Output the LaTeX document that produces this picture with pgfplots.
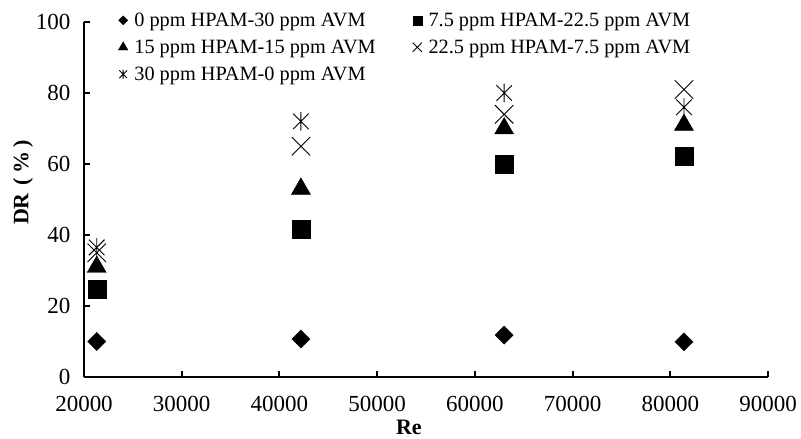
\documentclass[border=0pt]{standalone}
\usepackage{fontspec}
\setmainfont{Liberation Serif}
\usepackage{pgfplots}
\pgfplotsset{compat=1.18}
\pgfdeclareplotmark{xstar}{%
 \pgfpathmoveto{\pgfqpoint{-.7071\pgfplotmarksize}{-.7071\pgfplotmarksize}}%
 \pgfpathlineto{\pgfqpoint{.7071\pgfplotmarksize}{.7071\pgfplotmarksize}}%
 \pgfpathmoveto{\pgfqpoint{-.7071\pgfplotmarksize}{.7071\pgfplotmarksize}}%
 \pgfpathlineto{\pgfqpoint{.7071\pgfplotmarksize}{-.7071\pgfplotmarksize}}%
 \pgfpathmoveto{\pgfqpoint{0pt}{-.85\pgfplotmarksize}}%
 \pgfpathlineto{\pgfqpoint{0pt}{.85\pgfplotmarksize}}%
 \pgfusepathqstroke}
\begin{document}
\begin{tikzpicture}
\begin{axis}[
  scale only axis,
  width=684bp, height=355bp,
  xmin=20000, xmax=90000, ymin=0, ymax=100,
  xtick={20000,30000,...,90000},
  ytick={0,20,...,100},
  axis x line*=bottom, axis y line*=left,
  axis line style={line width=2.5bp, -},
  major tick style={line width=2bp, black},
  tick align=inside,
  major tick length=6bp,
  scaled ticks=false,
  /pgf/number format/1000 sep={},
  /pgf/number format/assume math mode=true,
  ticklabel style={font=\fontsize{23bp}{26bp}\selectfont},
  xticklabel style={yshift=-16bp},
  yticklabel style={xshift=-10bp},
  xlabel={\textbf{Re}},
  ylabel={\textbf{DR\hspace{0.35em}(\hspace{0.2em}\%\hspace{0.2em})}},
  label style={font=\fontsize{22bp}{26bp}\selectfont},
  xlabel style={at={(rel axis cs:0.475,-0.143)}, anchor=center},
  ylabel style={at={(rel axis cs:-0.089,0.548)}, anchor=center},
  legend columns=2,
  legend style={draw=none, fill=none, at={(0.05,1.032)}, anchor=north west,
    font=\fontsize{20.3bp}{24bp}\selectfont, row sep=8bp,
    /tikz/every even column/.append style={column sep=35bp},
    inner sep=0pt},
  legend cell align=left,
  legend image code/.code={\draw[#1,/tikz/every mark/.append style={scale=0.5}] plot coordinates {(0bp,0)}; \path (9bp,0);},
  clip=false,
]
\addplot[only marks, mark=square*, mark size=6.4bp, mark options={rotate=45, fill=black, draw=black}]
  coordinates {(21300,10) (42200,10.7) (63000,11.8) (81400,9.9)};
\addlegendentry{0 ppm HPAM-30 ppm AVM}
\addplot[only marks, mark=square*, mark size=9bp, mark options={fill=black, draw=black}]
  coordinates {(21300,24.8) (42200,41.7) (63000,60) (81400,62.2)};
\addlegendentry{7.5 ppm HPAM-22.5 ppm AVM}
\addplot[only marks, mark=triangle*, mark size=11bp, mark options={fill=black, draw=black}]
  coordinates {(21300,31) (42200,53) (63000,70) (81400,71)};
\addlegendentry{15 ppm HPAM-15 ppm AVM}
\addplot[only marks, mark=x, mark size=13bp, mark options={draw=black, line width=0.9bp}]
  coordinates {(21300,35) (42200,65) (63000,74) (81400,81)};
\addlegendentry{22.5 ppm HPAM-7.5 ppm AVM}
\addplot[only marks, mark=xstar, mark size=11bp, mark options={draw=black, line width=0.9bp}]
  coordinates {(21300,36.5) (42200,72) (63000,80) (81400,76)};
\addlegendentry{30 ppm HPAM-0 ppm AVM}
\end{axis}
\pgfresetboundingbox
\path[use as bounding box] ([xshift=-84bp,yshift=-62bp]current axis.south west) rectangle ([xshift=33bp,yshift=22bp]current axis.north east);
\end{tikzpicture}
\end{document}
